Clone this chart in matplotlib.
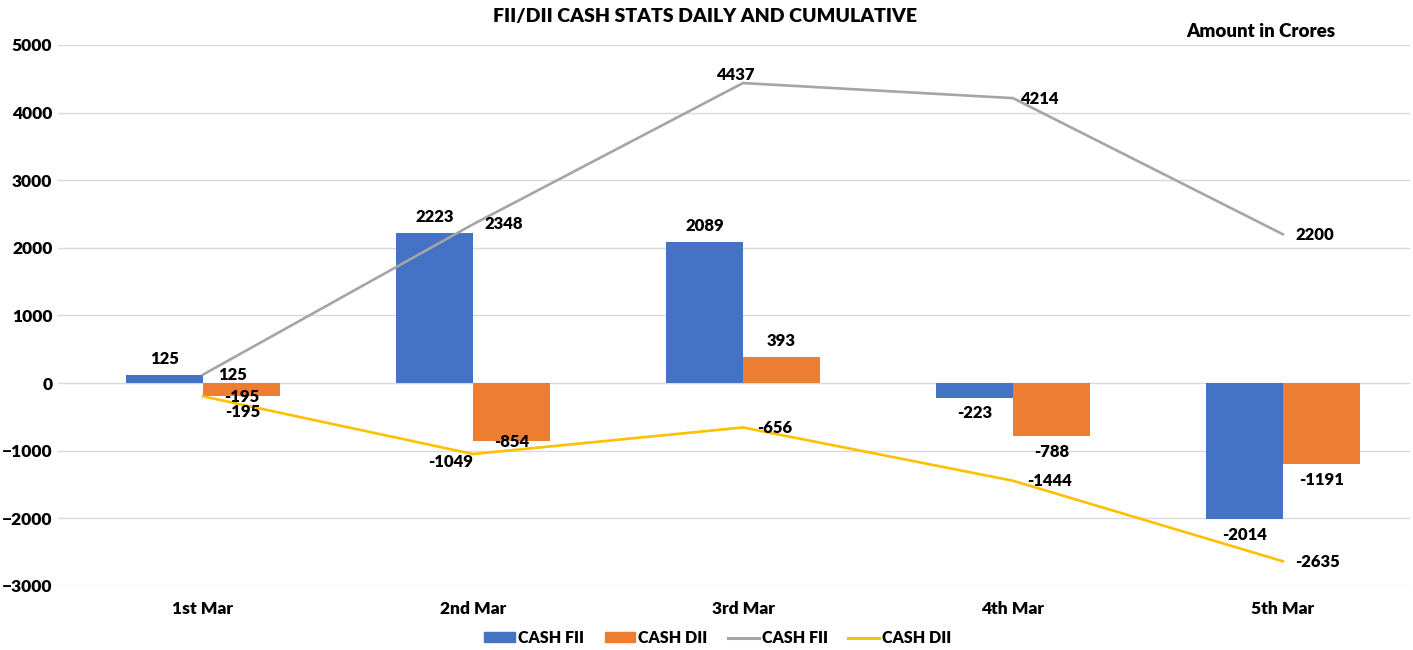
import numpy as np
import matplotlib
matplotlib.use('Agg')
import matplotlib.pyplot as plt
from matplotlib.patches import Patch
from matplotlib.lines import Line2D

plt.rcParams['font.family'] = ['Lato', 'DejaVu Sans']
plt.rcParams['font.weight'] = 'heavy'

# Data (amount in crores)
days = ['1st Mar', '2nd Mar', '3rd Mar', '4th Mar', '5th Mar']
fii_daily = [125, 2223, 2089, -223, -2014]
dii_daily = [-195, -854, 393, -788, -1191]
fii_cum = [125, 2348, 4437, 4214, 2200]
dii_cum = [-195, -1049, -656, -1444, -2635]

# label offsets in pixels (dx, dy)
fii_bar_off = [(0, 16), (0, 16), (0, 16), (0, -15), (0, -16)]
dii_bar_off = [(0, -1), (0, -1), (0, 16), (0, -16), (0, -16)]
fii_cum_off = [(30, 0), (31, 0), (-8, 8), (26, -1), (32, -1)]
dii_cum_off = [(40, -16), (-22, -8), (32, -1), (37, 0), (35, -1)]

blue = '#4472C4'
orange = '#ED7D31'
gray = '#A5A5A5'
gold = '#FFC000'
W = 'heavy'

fig = plt.figure(figsize=(14.13, 6.5), dpi=100)
ax = fig.add_axes([0.041, 0.0985, 0.9568, 0.8323])

x = np.arange(len(days))
w = 0.285
ax.bar(x - w / 2, fii_daily, w, color=blue, zorder=2)
ax.bar(x + w / 2, dii_daily, w, color=orange, zorder=2)
ax.plot(x, fii_cum, color=gray, lw=1.9, zorder=3)
ax.plot(x, dii_cum, color=gold, lw=1.9, zorder=3)

fs = 12
def label(xs, vals, offs):
    for xi, v, (dx, dy) in zip(xs, vals, offs):
        ax.annotate(str(v), (xi, v), xytext=(dx, dy), textcoords='offset pixels',
                    ha='center', va='center', fontsize=fs, fontweight=W,
                    color='black', zorder=5)

label(x - w / 2, fii_daily, fii_bar_off)
label(x + w / 2, dii_daily, dii_bar_off)
label(x, fii_cum, fii_cum_off)
label(x, dii_cum, dii_cum_off)

ax.set_ylim(-3000, 5000)
ax.set_xlim(-0.537, 4.47)
ax.set_yticks(np.arange(-3000, 5001, 1000))
ax.set_xticks(x)
ax.set_xticklabels(days)
ax.yaxis.grid(True, color='#D9D9D9', lw=1, zorder=0)
ax.set_axisbelow(True)
for s in ax.spines.values():
    s.set_visible(False)
ax.tick_params(length=0, labelsize=12.5)
ax.tick_params(axis='x', pad=11)
ax.tick_params(axis='y', pad=4)
for t in ax.get_xticklabels() + ax.get_yticklabels():
    t.set_fontweight(W)

fig.text(0.499, 0.974, 'FII/DII CASH STATS DAILY AND CUMULATIVE', ha='center', va='center',
         fontsize=14, fontweight=W)
fig.text(0.892, 0.951, 'Amount in Crores', ha='center', va='center',
         fontsize=13.5, fontweight=W)

handles = [Patch(color=blue), Patch(color=orange),
           Line2D([], [], color=gray, lw=2.2), Line2D([], [], color=gold, lw=2.2)]
names = ['CASH FII', 'CASH DII', 'CASH FII', 'CASH DII']
fig.legend(handles, names, loc='center', bbox_to_anchor=(0.508, 0.019), ncol=4,
           frameon=False, handlelength=1.9, handleheight=0.5,
           handletextpad=0.2, columnspacing=1.3, prop={'weight': W, 'size': 11.5})

fig.savefig('out.png', dpi=100, facecolor='white')
